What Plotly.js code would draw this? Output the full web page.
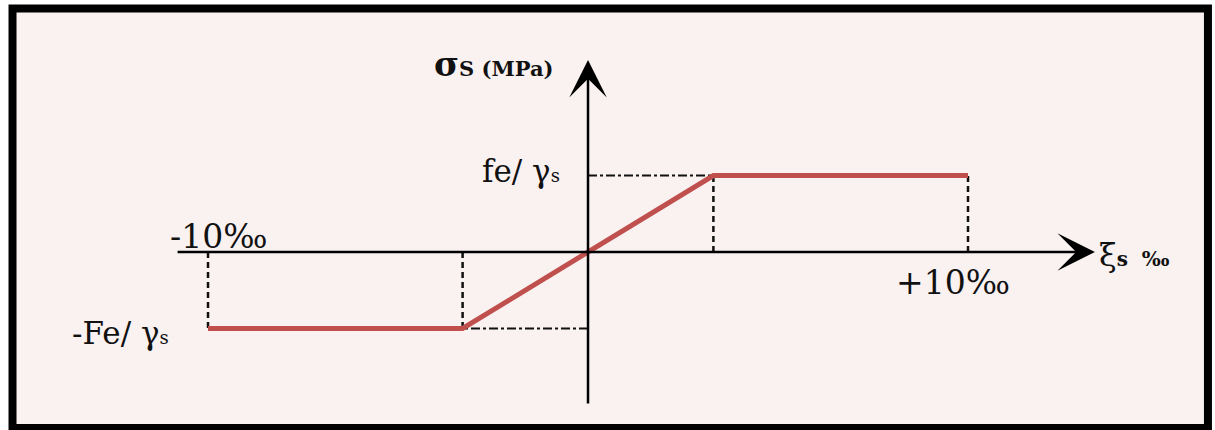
<!DOCTYPE html>
<html>
<head>
<meta charset="utf-8">
<script src="https://cdn.plot.ly/plotly-3.0.1.min.js"></script>
<style>
  html, body { margin: 0; padding: 0; background: #ffffff; }
  #chart { width: 1215px; height: 430px; }
</style>
</head>
<body>
<div id="chart"></div>
<script>
// steel stress-strain diagram (elastic - perfectly plastic)
const strain = [-10, -3.3, 3.3, 10];          // ‰
const stress = [-348, -348, 348, 348];        // MPa (fe / γs)
const strainLabels = ['-10‰', '+10‰'];
const stressLabels = ['fe/ γ<span style="font-size:18px">s</span>', '-Fe/ γ<span style="font-size:18px">s</span>'];

// extent of the drawn axes (arrows)
const xAxisSpan = [-10.84, 13.34];
const yAxisSpan = [-696, 873];

const RED = '#c0504d';
const FONT = 'DejaVu Serif, Liberation Serif, serif';

// dashed verticals from each corner point to the strain axis
const vx = [], vy = [];
strain.forEach((e, i) => {
  vx.push(e, e, null);
  vy.push(0, stress[i], null);
});

// dash-dot horizontals from the yield points to the stress axis
const hx = [], hy = [];
[1, 2].forEach(i => {
  hx.push(0, strain[i], null);
  hy.push(stress[i], stress[i], null);
});

const traces = [
  {
    x: vx, y: vy, type: 'scatter', mode: 'lines',
    line: { color: '#111', width: 2.5, dash: '6px,4px' },
    hoverinfo: 'skip', connectgaps: false
  },
  {
    x: hx, y: hy, type: 'scatter', mode: 'lines',
    line: { color: '#111', width: 2, dash: 'dashdot' },
    hoverinfo: 'skip', connectgaps: false
  },
  {
    x: strain, y: stress, type: 'scatter', mode: 'lines',
    line: { color: RED, width: 5 },
    hoverinfo: 'skip'
  }
];

const txt = (text, size, extra) => Object.assign({
  text: text, showarrow: false,
  font: { family: FONT, size: size, color: '#111' }
}, extra);

const annotations = [
  // x axis with arrow
  {
    x: xAxisSpan[1], y: 0, ax: xAxisSpan[0], ay: 0,
    xref: 'x', yref: 'y', axref: 'x', ayref: 'y',
    text: '', showarrow: true, arrowhead: 3, arrowsize: 2.5, arrowwidth: 2.5,
    arrowcolor: '#000', standoff: 0
  },
  // y axis with arrow
  {
    x: 0, y: yAxisSpan[1], ax: 0, ay: yAxisSpan[0],
    xref: 'x', yref: 'y', axref: 'x', ayref: 'y',
    text: '', showarrow: true, arrowhead: 3, arrowsize: 2.5, arrowwidth: 2.5,
    arrowcolor: '#000', standoff: 0
  },
  txt('<b>σ<span style="font-size:21px">S (MPa)</span></b>', 34, {
    x: 0, y: yAxisSpan[1], xref: 'x', yref: 'y',
    xanchor: 'right', yanchor: 'middle', xshift: -32, yshift: -4
  }),
  txt('ξ<b><span style="font-size:20px">s  ‰</span></b>', 32, {
    x: xAxisSpan[1], y: 0, xref: 'x', yref: 'y',
    xanchor: 'left', yanchor: 'middle', xshift: 2, yshift: -3
  }),
  txt(stressLabels[0], 31, {
    x: 0, y: stress[3], xref: 'x', yref: 'y',
    xanchor: 'right', yanchor: 'middle', xshift: -26, yshift: 5
  }),
  txt(stressLabels[1], 31, {
    x: strain[0], y: stress[0], xref: 'x', yref: 'y',
    xanchor: 'right', yanchor: 'middle', xshift: -37, yshift: -4
  }),
  txt(strainLabels[0], 33, {
    x: strain[0], y: 0, xref: 'x', yref: 'y',
    xanchor: 'center', yanchor: 'bottom', xshift: 10, yshift: -6
  }),
  txt(strainLabels[1], 33, {
    x: strain[3], y: 0, xref: 'x', yref: 'y',
    xanchor: 'center', yanchor: 'top', xshift: -15, yshift: -9
  })
];

const layout = {
  width: 1215,
  height: 430,
  margin: { l: 0, r: 0, t: 0, b: 0 },
  paper_bgcolor: '#ffffff',
  plot_bgcolor: 'rgba(0,0,0,0)',
  showlegend: false,
  xaxis: { range: [-15.474, 16.5], visible: false, fixedrange: true },
  yaxis: { range: [-809.7, 1146.3], visible: false, fixedrange: true },
  shapes: [
    {
      type: 'rect', xref: 'paper', yref: 'paper', layer: 'below',
      x0: 0.0103, x1: 0.9942, y0: 0.0047, y1: 0.9802,
      line: { color: '#000', width: 8 },
      fillcolor: '#faf1f1'
    }
  ],
  annotations: annotations
};

Plotly.newPlot('chart', traces, layout, { displayModeBar: false, staticPlot: true });
</script>
</body>
</html>
